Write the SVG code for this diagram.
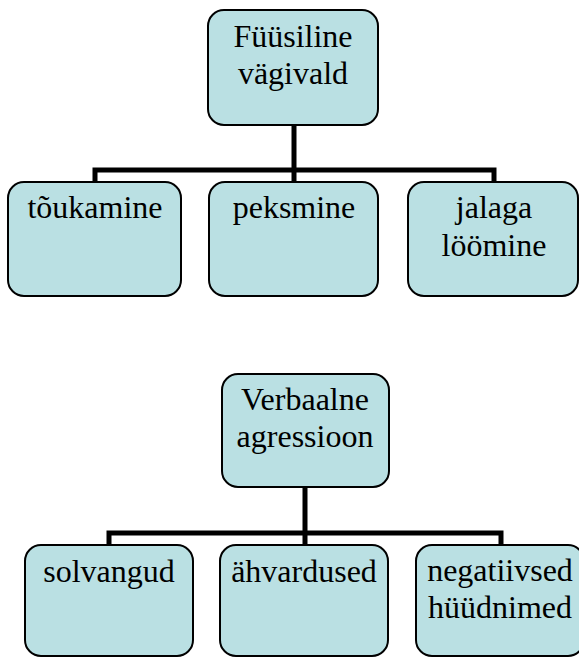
<svg xmlns="http://www.w3.org/2000/svg" width="579" height="657" viewBox="0 0 579 657">
<style>
.box{fill:#bae0e3;stroke:#000;stroke-width:2}
text{font-family:'Liberation Serif','Times New Roman','DejaVu Serif',serif;font-size:32px;fill:#000;text-anchor:middle}
.c{fill:none;stroke:#000;stroke-width:5}
</style>
<rect width="579" height="657" fill="#fff"/>
<g id="connectors">
<path class="c" d="M294,125 V170 M95,183 V170 H494 V183 M294,170 V183"/>
<path class="c" d="M305,487 V533 M109,546 V533 H501 V546 M305,533 V546"/>
</g>
<g id="n-fyysiline">
<rect class="box" x="208" y="10" width="170" height="115" rx="16"/>
<text font-family="Liberation Serif, serif" x="293" y="47">Füüsiline</text>
<text font-family="Liberation Serif, serif" x="293" y="84">vägivald</text>
</g>
<g id="n-toukamine">
<rect class="box" x="8" y="182" width="173" height="114" rx="16"/>
<text font-family="Liberation Serif, serif" x="95" y="218">tõukamine</text>
</g>
<g id="n-peksmine">
<rect class="box" x="209" y="182" width="169" height="114" rx="16"/>
<text font-family="Liberation Serif, serif" x="294" y="218">peksmine</text>
</g>
<g id="n-jalaga">
<rect class="box" x="408" y="182" width="170" height="114" rx="16"/>
<text font-family="Liberation Serif, serif" x="494" y="218">jalaga</text>
<text font-family="Liberation Serif, serif" x="494" y="256">löömine</text>
</g>
<g id="n-verbaalne">
<rect class="box" x="222" y="374" width="167" height="113" rx="16"/>
<text font-family="Liberation Serif, serif" x="305" y="410">Verbaalne</text>
<text font-family="Liberation Serif, serif" x="305" y="447">agressioon</text>
</g>
<g id="n-solvangud">
<rect class="box" x="25" y="545" width="168" height="111" rx="16"/>
<text font-family="Liberation Serif, serif" x="109" y="582">solvangud</text>
</g>
<g id="n-ahvardused">
<rect class="box" x="220" y="545" width="168" height="111" rx="16"/>
<text font-family="Liberation Serif, serif" x="304" y="582">ähvardused</text>
</g>
<g id="n-negatiivsed">
<rect class="box" x="416" y="545" width="168" height="111" rx="16"/>
<text font-family="Liberation Serif, serif" x="500" y="581">negatiivsed</text>
<text font-family="Liberation Serif, serif" x="500" y="618">hüüdnimed</text>
</g>
</svg>
